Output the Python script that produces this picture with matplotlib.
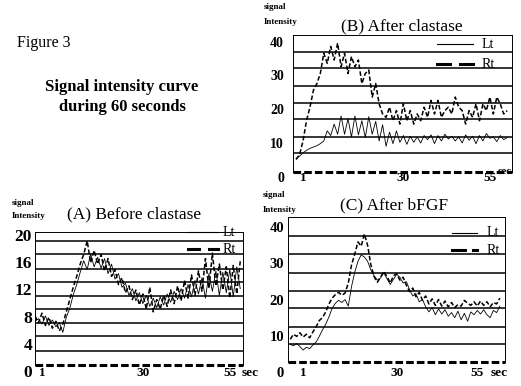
import numpy as np
import matplotlib
matplotlib.use("Agg")
import matplotlib.pyplot as plt
from matplotlib.transforms import blended_transform_factory

plt.rcParams['font.family'] = ['Liberation Serif', 'DejaVu Serif']

# ---------------- data ----------------
# Panel A: Before clastase (t = -1 .. 58 s)
A_t = list(range(-1, 59))
A_Lt = [7.6, 8.0, 7.2, 8.4, 7.0, 7.8, 6.8, 7.4, 6.0, 8.2, 9.5, 11.5, 13.0, 14.8, 16.5, 15.2,
        17.5, 15.6, 17.0, 15.4, 16.8, 14.6, 16.0, 13.8, 14.6, 12.6, 13.2, 11.4, 12.4, 10.6,
        11.8, 10.2, 11.4, 9.8, 11.0, 9.6, 11.2, 10.0, 11.6, 10.4, 12.0, 10.8, 12.4, 11.0,
        13.0, 11.2, 13.6, 11.6, 14.0, 11.0, 14.6, 12.0, 15.0, 11.4, 14.8, 11.8, 15.2, 11.2,
        15.6, 12.4]
A_Rt = [8.4, 7.4, 8.8, 7.0, 8.2, 6.6, 7.6, 6.2, 7.2, 9.0, 10.8, 12.6, 14.2, 16.0, 17.4, 19.4,
        16.2, 18.0, 16.0, 17.4, 15.0, 16.8, 14.2, 15.2, 13.0, 14.0, 11.8, 12.8, 10.8, 12.2,
        10.0, 11.6, 9.4, 12.6, 9.0, 10.8, 9.4, 11.4, 9.8, 12.2, 10.2, 12.8, 10.6, 13.6, 11.0,
        14.4, 11.4, 15.0, 12.0, 16.8, 12.4, 17.6, 12.8, 16.0, 12.2, 15.6, 11.0, 15.8, 11.6,
        16.4]

# Panel B: After clastase (t = -1 .. 60 s)
B_t = list(range(-1, 61))
B_Lt = [5.8, 6.5, 7.5, 8.2, 8.8, 9.2, 9.6, 10.2, 11.0, 14.0, 12.6, 16.0, 13.0, 18.4, 13.0,
        17.6, 12.2, 18.4, 12.8, 17.0, 12.0, 18.2, 13.0, 16.8, 11.0, 15.8, 9.4, 13.6, 10.2,
        14.0, 10.6, 12.6, 10.0, 12.4, 10.6, 12.2, 10.4, 12.6, 11.4, 12.8, 10.2, 12.6, 11.0,
        13.0, 11.6, 12.4, 11.0, 12.2, 10.4, 12.8, 11.2, 12.4, 10.2, 12.6, 11.0, 13.2, 11.8,
        12.2, 10.8, 12.6, 11.4, 12.0]
B_Rt = [5.5, 7.0, 11.0, 17.0, 21.0, 26.0, 28.0, 31.0, 37.0, 34.0, 39.0, 35.0, 40.0, 33.0,
        37.0, 31.0, 36.0, 33.0, 35.0, 28.0, 31.0, 32.0, 24.0, 28.0, 22.0, 19.0, 18.0, 21.0,
        17.0, 20.0, 16.0, 22.0, 17.0, 20.0, 16.0, 19.0, 17.0, 21.0, 18.0, 23.0, 19.0, 23.0,
        18.0, 20.0, 21.0, 19.0, 24.0, 21.0, 20.0, 16.0, 20.0, 18.0, 22.0, 17.0, 22.0, 20.0,
        24.0, 19.0, 24.0, 22.0, 19.0, 20.0]

# Panel C: After bFGF (t = -3 .. 62 s)
C_t = list(range(-3, 63))
C_Lt = [8.0, 7.6, 8.2, 7.4, 6.4, 7.2, 6.8, 7.8, 8.6, 10.2, 12.0, 13.6, 15.6, 18.0, 19.4, 20.2,
        19.6, 20.4, 18.6, 24.0, 28.0, 31.0, 32.8, 32.2, 31.0, 28.6, 27.0, 25.8, 26.4, 27.8,
        26.2, 24.6, 26.0, 27.4, 26.6, 25.0, 25.4, 23.2, 21.4, 22.0, 19.8, 20.4, 18.4, 17.0,
        18.2, 16.2, 17.8, 16.4, 17.6, 15.8, 16.8, 15.4, 17.2, 14.8, 16.6, 14.4, 17.0, 16.2,
        17.4, 16.4, 17.6, 16.2, 15.4, 17.4, 16.8, 18.6]
C_Rt = [9.4, 10.8, 10.2, 11.2, 10.0, 10.8, 9.8, 11.4, 12.8, 14.6, 15.4, 17.0, 19.2, 20.8,
        21.8, 22.4, 21.6, 22.2, 25.0, 30.0, 33.0, 36.4, 35.2, 38.6, 35.4, 30.0, 26.8, 25.2,
        26.6, 28.2, 26.8, 25.0, 27.0, 27.6, 25.8, 26.6, 24.4, 22.6, 23.6, 21.2, 22.4, 20.2,
        21.4, 19.2, 20.6, 18.8, 20.4, 18.6, 20.0, 18.4, 19.6, 18.2, 19.0, 18.6, 20.2, 19.4,
        18.8, 19.8, 18.6, 20.0, 18.8, 19.8, 18.4, 19.6, 19.2, 20.8]

A_yticks = [0, 4, 8, 12, 16, 20]
B_yticks = [0, 10, 20, 30, 40]
C_yticks = [0, 10, 20, 30, 40]
x_ticks = [1, 30, 55]

# ---------------- figure ----------------
W, H = 521, 386
fig = plt.figure(figsize=(W / 100, H / 100), dpi=100)


def fx(px):
    return px / W


def fy(py):
    return 1 - py / H


def make_axes(x0, x1, y0, y1):
    return fig.add_axes([fx(x0), fy(y1), fx(x1) - fx(x0), (y1 - y0) / H])


def style_panel(ax, t, lt, rt, xlim, ylim, grid, yticks, ylab_px, ylab_fs,
                xlab_y, sec_xy, sec_super, leg):
    ax.set_xlim(*xlim)
    ax.set_ylim(*ylim)
    for g in grid:
        ax.axhline(g, color='black', lw=1.1, zorder=1)
    ax.plot(t, lt, color='black', lw=0.6, zorder=3)
    ax.plot(t, rt, color='black', lw=1.1, ls=(0, (3, 1.5)), zorder=3)
    ax.set_xticks([])
    ax.set_yticks([])
    for s in ['left', 'right', 'top']:
        ax.spines[s].set_linewidth(0.7)
    ax.spines['bottom'].set_visible(False)
    ax.plot([0, 1], [0, 0], transform=ax.transAxes, color='black', lw=2.2,
            ls=(0, (2.5, 1)), clip_on=False, zorder=4)
    # y tick labels
    trY = blended_transform_factory(fig.transFigure, ax.transData)
    for v in yticks:
        ax.text(fx(ylab_px), v, str(v), transform=trY, ha='right',
                va='center', fontsize=ylab_fs, fontweight='bold', clip_on=False)
    # x tick labels
    trX = blended_transform_factory(ax.transData, ax.transAxes)
    for v in x_ticks:
        ax.text(v, xlab_y, str(v), transform=trX, ha='center', va='center',
                fontsize=9.5, fontweight='bold', clip_on=False)
    fig.text(fx(sec_xy[0]), fy(sec_xy[1]), 'sec', ha='center', va='center',
             fontsize=8 if sec_super else 9.5, fontweight='bold')
    # legend
    (lx0, lx1, ly_lt, ly_rt, d1, d2, tx) = leg
    ax.plot([lx0, lx1], [ly_lt, ly_lt], transform=ax.transAxes, color='black',
            lw=0.8, clip_on=False, zorder=5)
    ax.plot(d1, [ly_rt, ly_rt], transform=ax.transAxes, color='black',
            lw=2.2, clip_on=False, zorder=5)
    ax.plot(d2, [ly_rt, ly_rt], transform=ax.transAxes, color='black',
            lw=2.2, clip_on=False, zorder=5)
    ax.text(tx, ly_lt, 'Lt', transform=ax.transAxes, ha='left', va='center',
            fontsize=10)
    ax.text(tx, ly_rt, 'Rt', transform=ax.transAxes, ha='left', va='center',
            fontsize=10)


# Panel A
axA = make_axes(35, 243, 232, 365)
style_panel(axA, A_t, A_Lt, A_Rt, (-1, 58.8), (1.2, 20.7),
            [3.2, 5.4, 7.4, 9.4, 11.3, 13.3, 15.3, 17.5, 19.4],
            A_yticks, 32, 12.5, -0.06, (250, 373), False,
            (0.735, 0.88, 1.0, 0.872, [0.735, 0.79], [0.835, 0.88], 0.9))
# Panel B
axB = make_axes(293, 512, 35, 172)
style_panel(axB, B_t, B_Lt, B_Rt, (-1.9, 61.4), (1.8, 42.4),
            [7.4, 12.1, 17.5, 22.2, 27.3, 32.6, 37.3],
            B_yticks, 284, 10, -0.045, (505, 171), True,
            (0.657, 0.822, 0.934, 0.788, [0.657, 0.717], [0.762, 0.822], 0.863))
# Panel C
axC = make_axes(288, 505, 217, 362)
style_panel(axC, C_t, C_Lt, C_Rt, (-3.7, 63.6), (3.1, 43.3),
            [8.1, 12.9, 18.0, 22.9, 27.9, 33.0, 37.9],
            C_yticks, 284, 10.5, -0.076, (499, 373), False,
            (0.756, 0.871, 0.89, 0.772, [0.756, 0.815], [0.852, 0.871], 0.915))

# ---------------- texts ----------------
fig.text(fx(17), fy(43), 'Figure 3', ha='left', va='center', fontsize=11.5)
fig.text(fx(122), fy(87), 'Signal intensity curve', ha='center', va='center',
         fontsize=12, fontweight='bold')
fig.text(fx(122), fy(107), 'during 60 seconds', ha='center', va='center',
         fontsize=12, fontweight='bold')

fig.text(fx(134), fy(214), '(A) Before clastase', ha='center', va='center', fontsize=12.5)
fig.text(fx(402), fy(26), '(B) After clastase', ha='center', va='center', fontsize=12.5)
fig.text(fx(394), fy(205), '(C) After bFGF', ha='center', va='center', fontsize=12.5)

for (x, y1, y2) in [(12, 203, 216), (264, 7, 22), (263, 195, 210)]:
    fig.text(fx(x), fy(y1), 'signal', ha='left', va='center', fontsize=6.5,
             fontweight='bold')
    fig.text(fx(x), fy(y2), 'Intensity', ha='left', va='center', fontsize=6.5,
             fontweight='bold')

fig.savefig('out.png', dpi=100)
